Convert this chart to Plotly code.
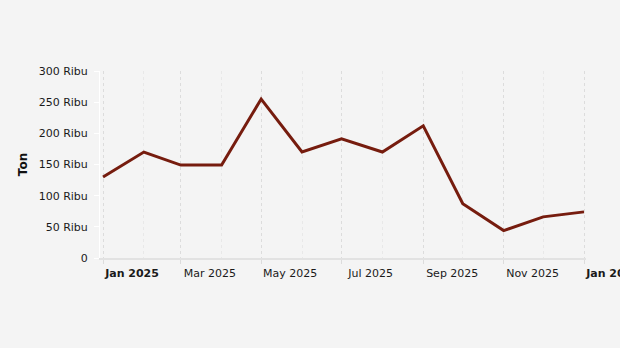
import plotly.graph_objects as go

# Monthly volume, thousand tonnes
months = ["2025-01-01", "2025-02-01", "2025-03-01", "2025-04-01", "2025-05-01",
          "2025-06-01", "2025-07-01", "2025-08-01", "2025-09-01", "2025-10-01",
          "2025-11-01", "2025-12-01", "2026-01-01"]
volume = [130, 170, 149, 149, 255, 170, 191, 170, 212, 87, 44, 66, 74]

# Axis ticks
x_tick_vals = ["2025-01-01", "2025-03-01", "2025-05-01", "2025-07-01",
               "2025-09-01", "2025-11-01", "2026-01-01"]
x_tick_text = ["<b>Jan 2025</b>", "Mar 2025", "May 2025", "Jul 2025",
               "Sep 2025", "Nov 2025", "<b>Jan 2026</b>"]
y_tick_vals = [0, 50, 100, 150, 200, 250, 300]
y_tick_text = ["0", "50 Ribu", "100 Ribu", "150 Ribu", "200 Ribu", "250 Ribu", "300 Ribu"]

BG = "#f4f4f4"
FONT = "DejaVu Sans"

fig = go.Figure(
    go.Scatter(
        x=months,
        y=volume,
        mode="lines",
        line=dict(color="#761c0e", width=3),
        hoverinfo="skip",
    )
)

fig.update_layout(
    width=620,
    height=348,
    margin=dict(l=100, r=34, t=71, b=90),
    paper_bgcolor=BG,
    plot_bgcolor=BG,
    showlegend=False,
    font=dict(family=FONT, size=11, color="#1a1a1a"),
)

fig.update_xaxes(
    type="date",
    range=["2024-12-29 17:00", "2026-01-02 12:00"],
    tickvals=x_tick_vals,
    ticktext=x_tick_text,
    ticklabelshift=29,
    ticklabeloverflow="allow",
    tickfont=dict(family=FONT, size=11, color="#1a1a1a"),
    ticks="outside",
    ticklen=4,
    tickcolor="#dcdcdc",
    showline=True,
    linecolor="#e2e2e2",
    linewidth=1.5,
    showgrid=True,
    gridcolor="#dcdcdc",
    griddash="dot",
    gridwidth=1,
    zeroline=False,
    automargin=False,
    minor=dict(
        dtick="M1",
        tick0="2025-01-01",
        showgrid=True,
        gridcolor="#e8e8e8",
        griddash="dot",
        gridwidth=1,
        ticks="",
    ),
)

fig.update_yaxes(
    range=[0, 300],
    tickvals=y_tick_vals,
    ticktext=y_tick_text,
    tickfont=dict(family=FONT, size=11, color="#1a1a1a"),
    ticks="outside",
    ticklen=5,
    tickcolor="#ffffff",
    ticklabelstandoff=4,
    showline=True,
    linecolor="#ffffff",
    linewidth=1,
    showgrid=False,
    zeroline=False,
    automargin=False,
    title=dict(text="<b>Ton</b>", font=dict(family=FONT, size=12, color="#111111"), standoff=8),
)

fig.write_html("out.html")
